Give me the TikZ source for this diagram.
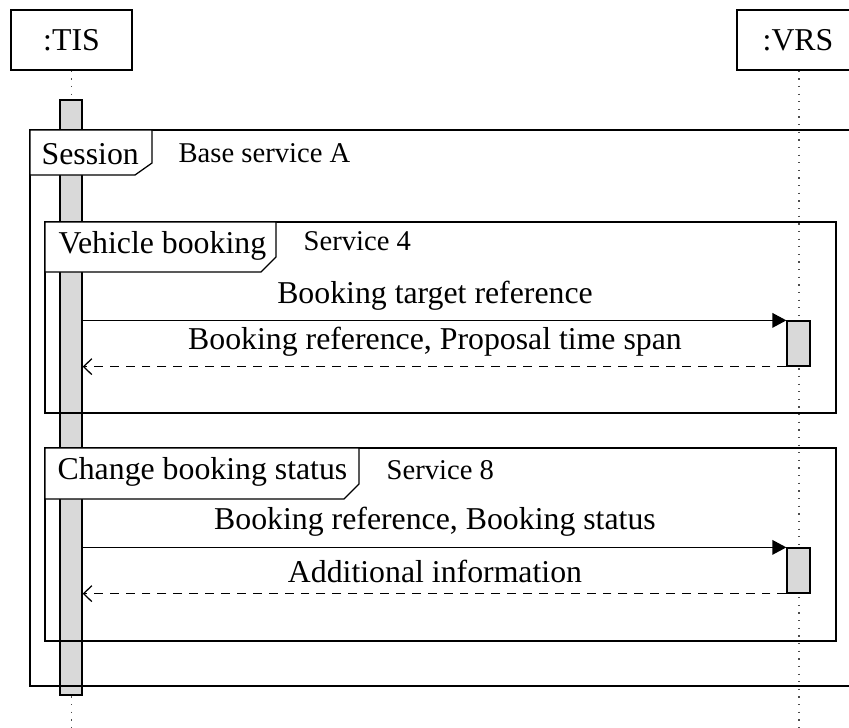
\documentclass[tikz,border=0pt]{standalone}
\usepackage{fontspec}
\setmainfont{Liberation Serif}
\usetikzlibrary{arrows.meta}
\begin{document}
\begin{tikzpicture}[x=0.3145pt,y=-0.3145pt,
  instbox/.style={draw,fill=white,inner sep=0pt,minimum width=#1*0.3145pt,minimum height=60*0.3145pt},
  lifeline/.style={dotted,line width=0.4pt,black!70},
  actbar/.style={draw,fill=black!15,inner sep=0pt,minimum width=#1*0.3145pt},
  framebox/.style={draw,line width=0.4pt},
  framelbl/.style={draw,fill=white,line width=0.4pt},
  lbltext/.style={inner sep=0pt,anchor=base west,font=\fontsize{10}{12}\selectfont},
  frametext/.style={inner sep=0pt,anchor=base west,font=\fontsize{9}{11}\selectfont},
  msgtext/.style={inner sep=0pt,anchor=base,font=\fontsize{10}{12}\selectfont},
  callmsg/.style={line width=0.4pt,-{Triangle[length=4.4pt,width=4.6pt]}},
  retmsg/.style={line width=0.4pt,dash pattern=on 2.8pt off 2.2pt,-{Straight Barb[length=2.6pt,width=5pt,line width=0.4pt]}}
]
\useasboundingbox (0,0) rectangle (849,727);
\fill[white] (0,0) rectangle (849,727);

% instances
\node[instbox=121] (tis) at (71.5,40) {};
\node[msgtext] (tistext) at (71.5,50) {:TIS};
\node[instbox=124] (vrs) at (799,40) {};
\node[msgtext] (vrstext) at (798,50) {:VRS};

% lifelines
\coordinate (tisend) at (71.5,735);
\coordinate (vrsend) at (799,735);
\draw[lifeline] (tis.south) -- (tisend);
\draw[lifeline] (vrs.south) -- (vrsend);

% activations
\node[actbar=22,minimum height=595*0.3145pt] (tisact) at (71,397.5) {};
\node[actbar=23,minimum height=45*0.3145pt] (vrsact1) at (798.5,343.5) {};
\node[actbar=23,minimum height=45*0.3145pt] (vrsact2) at (798.5,570.5) {};

% outer frame
\draw[framebox] (30,130) rectangle (900,686);
\draw[framelbl] (30,130) -- (152,130) -- (152,163) -- (135,175) -- (30,175) -- cycle;
\node[lbltext] (sess) at (41,164) {Session};
\node[frametext] (basea) at (178,162) {Base service A};

% frame 1
\draw[framebox] (45,222) rectangle (836,413);
\draw[framelbl] (45,222) -- (276,222) -- (276,257) -- (261,272) -- (45,272) -- cycle;
\node[lbltext] (vb) at (58,253) {Vehicle booking};
\node[frametext] (s4) at (303,250) {Service 4};

% frame 2
\draw[framebox] (45,448) rectangle (836,641);
\draw[framelbl] (45,448) -- (359,448) -- (359,484) -- (344,499) -- (45,499) -- cycle;
\node[lbltext] (cbs) at (57,479) {Change booking status};
\node[frametext] (s8) at (386,479) {Service 8};

% messages
\draw[callmsg] (tisact.east |- vrsact1.north) -- (vrsact1.north west);
\node[msgtext] (m1) at (435,303) {Booking target reference};
\draw[retmsg] (vrsact1.south west) -- (tisact.east |- vrsact1.south);
\node[msgtext] (m2) at (435,349) {Booking reference, Proposal time span};

\draw[callmsg] (tisact.east |- vrsact2.north) -- (vrsact2.north west);
\node[msgtext] (m3) at (435,529) {Booking reference, Booking status};
\draw[retmsg] (vrsact2.south west) -- (tisact.east |- vrsact2.south);
\node[msgtext] (m4) at (435,582) {Additional information};
\end{tikzpicture}
\end{document}
